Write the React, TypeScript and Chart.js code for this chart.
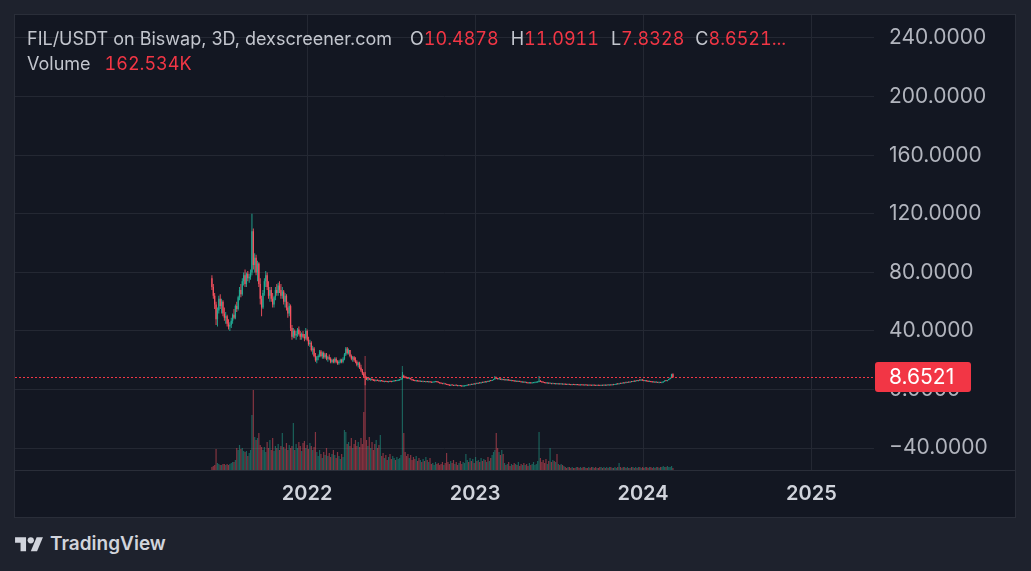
import React, { useEffect, useRef } from "react";
import { Chart, registerables } from "chart.js";
Chart.register(...registerables);

// ---------- data (FIL/USDT, 3D candles, Biswap) ----------
const DAY = 86400000;
const FIRST_CANDLE = Date.UTC(2021, 5, 8);
const CANDLE_STEP = 3 * DAY;
const X_MIN = Date.UTC(2020, 3, 6);
const X_MAX = Date.UTC(2025, 4, 17);
const Y_MIN = -54.9;
const Y_MAX = 255.7;
const VOL_MAX = 36400; // K

const yearTicks = [2022, 2023, 2024, 2025];
const priceTicks = [-40, 0, 40, 80, 120, 160, 200, 240];

const opens = [
  76,70,64,58,48,54,62,57,60,52, 49,50,45,43,44,47,51,49,57,55,
  63,68,65,74,78,72,79,76,77,80, 108,85,90,80,86,72,62,56,66,74,
  78,70,64,68,62,58,63,68,66,71, 68,64,67,60,64,56,52,57,42,36,
  40,37,38,41,38,36,38,36,35,40, 34,31,32,27,28,23,20,22,23,26,
  23,25,22,24,21,22,21,19,20,19, 21,19,18,19,20,19,21,24,28,25,
  27,23,21,22,20,19,17,18,15,13, 11,9,
  8,7,7.5,6.8,7.2,6.5,6.2,6,6.3,6.1,
  5.7,6.0,5.8,5.3,5.6,5.4,5.2,5.5,5.4,5.3,
  5.7,6.0,5.8,6.2,6.4,6.8,7.3,9.5,8.6,8.2,
  8.0,7.5,7.8,7.0,6.4,6.2,5.8,6.0,5.7,5.5,
  5.6,5.3,5.4,5.2,5.3,5.1,5.2,5.0,4.8,5.0,
  5.2,5.4,5.1,4.8,4.4,4.1,3.9,4.0,3.6,3.3,
  3.1,2.7,3.0,2.9,2.6,2.8,2.7,2.5,2.6,2.4,
  2.2,2.3,2.5,2.8,3.1,3.0,3.4,3.3,3.7,3.6,
  4.1,4.0,4.5,4.3,4.8,4.7,5.2,5.0,5.5,5.4,
  6.0,5.9,6.5,7.0,8.2,7.5,7.2,7.4,6.8,7.0,
  6.6,6.8,6.4,6.6,6.3,6.0,6.2,5.8,5.6,5.8,
  5.4,5.6,5.3,5.0,5.2,4.8,5.0,4.6,4.4,4.6,
  4.3,4.5,4.7,4.8,5.0,5.2,6.0,5.4,5.0,4.8,
  4.5,4.3,4.4,4.1,4.2,3.9,4.0,3.8,3.9,3.7,
  3.8,3.6,3.7,3.5,3.6,3.4,3.3,3.5,3.3,3.2,
  3.4,3.2,3.1,3.3,3.1,3.0,3.2,3.0,2.9,3.1,
  2.9,2.8,3.0,2.8,2.7,2.9,2.8,2.6,2.8,2.7,
  2.6,2.8,2.7,2.9,2.8,3.0,2.9,3.1,3.0,3.3,
  3.2,3.5,3.8,3.7,4.1,4.0,4.4,4.3,4.7,4.6,
  5.0,4.9,5.3,5.2,5.6,5.5,5.9,5.8,6.3,6.2,
  6.6,6.2,5.8,6.0,5.7,5.4,5.6,5.2,5.0,5.2,
  4.9,5.0,4.7,4.8,4.6,4.9,5.5,6.0,5.8,6.5,
  7.2,8.0,10.4878,
];

const highs = [
  78,72,66,60,56,64,65,62,61,56, 53,51,48,46,49,52,55,58,60,64,
  70,72,76,80,82,80,81,79,82,120, 110,93,92,88,87,76,64,68,76,81,
  80,74,70,70,66,64,70,72,73,74, 72,70,68,66,65,60,59,58,44,42,
  41,40,42,43,40,39,40,38,42,41, 36,34,33,30,29,25,23,24,27,27,
  26,26,25,25,23,24,22,21,21,22, 22,20,20,21,21,22,25,29,29,28,
  27,24,23,23,22,20,19,19,17,14, 12,12,
  9,8,8,7.5,7.6,7,6.8,6.6,6.7,6.4,
  6.3,6.4,6.0,5.8,5.9,5.7,5.6,5.8,5.7,5.9,
  6.2,6.3,6.4,6.6,7.0,7.5,12,10.2,9.0,8.8,
  8.3,8.0,8.0,7.3,6.8,6.5,6.2,6.3,6.0,5.9,
  5.8,5.6,5.7,5.5,5.6,5.4,5.5,5.3,5.2,5.4,
  5.6,5.6,5.3,5.0,4.6,4.3,4.2,4.2,3.8,3.6,
  3.4,3.2,3.3,3.1,3.0,3.0,2.9,2.8,2.8,2.6,
  2.5,2.6,2.9,3.2,3.4,3.5,3.7,3.8,4.0,4.2,
  4.4,4.6,4.8,4.9,5.2,5.3,5.6,5.6,5.9,6.2,
  6.4,6.6,7.2,9.3,8.8,8.0,7.8,7.6,7.2,7.3,
  7.0,7.1,6.8,6.9,6.6,6.5,6.4,6.1,6.0,6.0,
  5.8,5.9,5.5,5.4,5.4,5.2,5.2,4.9,4.8,4.8,
  4.7,4.9,5.0,5.2,5.4,9.3,6.4,5.7,5.3,5.0,
  4.8,4.6,4.6,4.4,4.4,4.2,4.2,4.1,4.1,4.0,
  4.0,3.9,3.9,3.8,3.8,3.6,3.6,3.7,3.5,3.5,
  3.6,3.4,3.4,3.5,3.3,3.3,3.4,3.2,3.2,3.3,
  3.1,3.1,3.2,3.0,3.0,3.1,3.0,2.9,3.0,2.9,
  2.9,3.0,3.0,3.1,3.1,3.2,3.2,3.3,3.4,3.5,
  3.6,3.9,4.1,4.2,4.4,4.5,4.7,4.8,5.0,5.1,
  5.3,5.4,5.6,5.8,6.0,6.1,6.4,6.5,6.8,6.9,
  7.0,6.5,6.2,6.3,6.0,5.8,5.8,5.5,5.4,5.4,
  5.2,5.2,5.0,5.1,5.0,5.6,6.2,6.4,6.6,7.4,
  8.2,10.8,11.0911,
];

const lows = [
  68,62,55,44,43,52,55,52,50,47, 45,43,41,40,42,45,48,48,53,54,
  61,63,64,71,70,70,74,73,75,78, 82,80,78,74,70,58,50,55,64,70,
  68,62,60,60,56,56,61,64,64,66, 62,62,58,56,54,49,50,40,34,35,
  35,34,36,37,34,34,35,33,34,33, 30,29,26,24,22,19,18,20,22,22,
  21,21,21,20,19,20,18,18,18,18, 18,17,17,18,18,18,20,23,24,24,
  22,20,19,19,18,16,15,14,12,10, 8,3,
  6.5,6,6.5,6,6.2,5.8,5.5,5.6,5.8,5.5,
  5.4,5.5,5.1,5.0,5.2,5.0,4.9,5.2,5.0,5.1,
  5.4,5.6,5.6,5.9,6.1,6.5,6.9,8.2,7.8,7.6,
  7.2,7.1,6.8,6.2,5.9,5.6,5.4,5.5,5.3,5.2,
  5.1,5.0,5.1,4.9,5.0,4.8,4.9,4.6,4.6,4.8,
  5.0,4.9,4.6,4.2,3.9,3.7,3.6,3.5,3.1,2.9,
  2.4,2.5,2.7,2.5,2.4,2.5,2.3,2.2,2.3,2.0,
  1.9,2.1,2.3,2.6,2.8,2.9,3.1,3.2,3.4,3.5,
  3.8,3.9,4.1,4.2,4.5,4.6,4.9,4.9,5.2,5.3,
  5.7,5.8,6.3,6.8,7.2,6.9,6.7,6.6,6.3,6.4,
  6.2,6.2,6.0,6.1,5.8,5.7,5.6,5.4,5.3,5.2,
  5.1,5.2,4.8,4.7,4.6,4.5,4.4,4.2,4.2,4.1,
  4.1,4.3,4.4,4.6,4.7,5.0,5.2,4.9,4.6,4.3,
  4.1,4.0,3.9,3.8,3.7,3.6,3.6,3.5,3.6,3.5,
  3.5,3.4,3.4,3.3,3.2,3.1,3.1,3.2,3.0,3.0,
  3.1,2.9,2.9,3.0,2.8,2.8,2.9,2.7,2.7,2.8,
  2.6,2.6,2.7,2.5,2.5,2.6,2.5,2.4,2.5,2.4,
  2.4,2.5,2.5,2.6,2.6,2.7,2.7,2.8,2.9,3.0,
  3.1,3.3,3.5,3.6,3.8,3.9,4.1,4.2,4.4,4.5,
  4.7,4.8,5.0,5.1,5.3,5.4,5.6,5.7,6.0,6.1,
  6.0,5.6,5.5,5.5,5.2,5.1,5.0,4.8,4.8,4.7,
  4.6,4.5,4.4,4.5,4.4,4.8,5.3,5.6,5.7,6.3,
  7.0,7.8,7.8328,
];

const closes = [
  70,64,58,48,54,62,57,60,52,49, 50,45,43,44,47,51,49,57,55,63,
  68,65,74,78,72,79,76,77,80,108, 85,90,80,86,72,62,56,66,74,78,
  70,64,68,62,58,63,68,66,71,68, 64,67,60,64,56,52,57,42,36,40,
  37,38,41,38,36,38,36,35,40,34, 31,32,27,28,23,20,22,23,26,23,
  25,22,24,21,22,21,19,20,19,21, 19,18,19,20,19,21,24,28,25,27,
  23,21,22,20,19,17,18,15,13,11, 9,8,
  7,7.5,6.8,7.2,6.5,6.2,6,6.3,6.1,5.7,
  6.0,5.8,5.3,5.6,5.4,5.2,5.5,5.4,5.3,5.7,
  6.0,5.8,6.2,6.4,6.8,7.3,9.5,8.6,8.2,8.0,
  7.5,7.8,7.0,6.4,6.2,5.8,6.0,5.7,5.5,5.6,
  5.3,5.4,5.2,5.3,5.1,5.2,5.0,4.8,5.0,5.2,
  5.4,5.1,4.8,4.4,4.1,3.9,4.0,3.6,3.3,3.1,
  2.7,3.0,2.9,2.6,2.8,2.7,2.5,2.6,2.4,2.2,
  2.3,2.5,2.8,3.1,3.0,3.4,3.3,3.7,3.6,4.1,
  4.0,4.5,4.3,4.8,4.7,5.2,5.0,5.5,5.4,6.0,
  5.9,6.5,7.0,8.2,7.5,7.2,7.4,6.8,7.0,6.6,
  6.8,6.4,6.6,6.3,6.0,6.2,5.8,5.6,5.8,5.4,
  5.6,5.3,5.0,5.2,4.8,5.0,4.6,4.4,4.6,4.3,
  4.5,4.7,4.8,5.0,5.2,6.0,5.4,5.0,4.8,4.5,
  4.3,4.4,4.1,4.2,3.9,4.0,3.8,3.9,3.7,3.8,
  3.6,3.7,3.5,3.6,3.4,3.3,3.5,3.3,3.2,3.4,
  3.2,3.1,3.3,3.1,3.0,3.2,3.0,2.9,3.1,2.9,
  2.8,3.0,2.8,2.7,2.9,2.8,2.6,2.8,2.7,2.6,
  2.8,2.7,2.9,2.8,3.0,2.9,3.1,3.0,3.3,3.2,
  3.5,3.8,3.7,4.1,4.0,4.4,4.3,4.7,4.6,5.0,
  4.9,5.3,5.2,5.6,5.5,5.9,5.8,6.3,6.2,6.6,
  6.2,5.8,6.0,5.7,5.4,5.6,5.2,5.0,5.2,4.9,
  5.0,4.7,4.8,4.6,4.9,5.5,6.0,5.8,6.5,7.2,
  8.0,10.5,8.6521,
];

// volume in thousands (K)
const volumesK = [
  240,320,400,1680,560,480,400,400,480,480,400,480,400,480,560,640,640,
  800,1760,1600,2000,1680,1760,1520,1440,1520,1120,1360,1600,
  4400,6400,
  2640,2400,2560,2960,2000,
  1840,1600,1840,1440,2240,1760,2400,1600,2560,1520,1920,
  1760,2080,1600,1920,2960,1840,1680,2160,1600,2000,1760,1920,
  3760,
  1600,2080,1760,2240,1920,1520,2160,2320,1760,2000,1680,2160,1920,1600,1840,
  3040,
  1440,1120,1600,1280,960,1440,1200,1760,1120,1360,1040,1280,1600,1200,960,1440,1120,880,1280,1040,
  3200,3040,2080,
  2240,1920,2560,1760,2080,2400,1920,2240,1840,2560,2080,4640,
  9120,
  2400,1920,2640,1760,2240,1600,2080,2400,1760,2000,2800,
  1120,1360,960,1200,800,1040,1280,880,1120,960,800,1040,880,960,1200,
  8320,
  2960,
  1440,1120,1280,960,1200,800,1040,880,1120,720,960,800,640,880,720,1040,800,640,960,
  480,560,400,640,480,560,400,480,640,400,560,
  1360,
  640,480,720,560,800,480,640,400,560,720,480,640,560,
  1280,
  800,640,960,720,880,560,1040,720,800,640,960,720,880,800,640,1040,720,960,
  1200,1440,1600,
  2960,
  1760,1440,1200,1600,1280,
  560,400,480,640,320,480,400,560,480,400,640,320,480,400,560,400,480,320,560,400,480,640,400,480,
  720,3040,
  960,640,800,560,880,480,720,
  1760,
  640,800,720,640,
  1280,
  480,400,480,400,320,
  240,160,240,240,160,240,160,160,240,240,160,240,160,240,240,160,160,240,160,240,
  240,160,240,160,160,240,240,160,240,160,240,160,240,240,160,160,240,160,240,560,
  240,160,240,240,160,240,160,160,240,240,160,240,160,240,240,160,240,160,240,240,
  160,240,240,160,240,160,240,240,160,240,240,320,240,240,320,240,240,320,162.534,
];

// ---------- styles ----------
const UP = "#22ab94";
const DOWN = "#f7525f";
const VOL_UP = "rgba(34,171,148,0.5)";
const VOL_DOWN = "rgba(247,82,95,0.5)";
const GRID = "#242833";
const PANEL_BG = "#131722";
const OUTER_BG = "#1e222d";
const BORDER = "#2a2e39";
const TEXT = "#c3c6ce";
const RED_TEXT = "#f23645";
const FONT = "Inter, 'Noto Sans', sans-serif";

function fmtPrice(v: number) {
  const s = Math.abs(v).toFixed(4);
  return v < 0 ? "\u2212" + s : s;
}

export default function App() {
  const ref = useRef<HTMLCanvasElement>(null);

  useEffect(() => {
    const canvas = ref.current;
    if (!canvas) return;
    const xs = closes.map((_, i) => FIRST_CANDLE + i * CANDLE_STEP);
    const up = closes.map((c, i) => c >= opens[i]);
    const last = closes.length - 1;

    const overlay = {
      id: "overlay",
      afterDatasetsDraw(chart: any) {
        const { ctx, chartArea, scales } = chart;
        const y = Math.round(scales.y.getPixelForValue(closes[last])) + 0.5;
        ctx.save();
        ctx.strokeStyle = RED_TEXT;
        ctx.lineWidth = 1;
        ctx.setLineDash([2, 2]);
        ctx.beginPath();
        ctx.moveTo(chartArea.left, y);
        ctx.lineTo(chartArea.right, y);
        ctx.stroke();
        ctx.restore();
      },
      afterDraw(chart: any) {
        const { ctx, chartArea, scales, width } = chart;
        ctx.save();
        ctx.fillStyle = BORDER;
        ctx.fillRect(0, chartArea.bottom, width, 1);
        const y = scales.y.getPixelForValue(closes[last]);
        const bx = chartArea.right + 1;
        const bw = 96;
        const bh = 30;
        const by = y - bh / 2;
        ctx.fillStyle = RED_TEXT;
        ctx.beginPath();
        (ctx as any).roundRect(bx, by, bw, bh, 3);
        ctx.fill();
        ctx.fillStyle = "#ffffff";
        ctx.font = `21px ${FONT}`;
        ctx.textBaseline = "middle";
        ctx.textAlign = "left";
        ctx.fillText(closes[last].toFixed(4), chartArea.right + 15, y + 1);
        ctx.restore();
      },
    };

    const chart = new Chart(canvas, {
      type: "bar",
      data: {
        datasets: [
          {
            label: "Volume",
            data: volumesK.map((v, i) => ({ x: xs[i], y: v })) as any,
            yAxisID: "yv",
            backgroundColor: up.map((u) => (u ? VOL_UP : VOL_DOWN)),
            barThickness: 1.2,
            inflateAmount: 0,
            grouped: false,
            order: 3,
          } as any,
          {
            label: "Wick",
            data: closes.map((_, i) => ({ x: xs[i], y: [lows[i], highs[i]] })) as any,
            yAxisID: "y",
            backgroundColor: up.map((u) => (u ? UP : DOWN)),
            barThickness: 0.9,
            inflateAmount: 0,
            grouped: false,
            order: 2,
          } as any,
          {
            label: "Body",
            data: closes.map((c, i) => ({ x: xs[i], y: [opens[i], c] })) as any,
            yAxisID: "y",
            backgroundColor: up.map((u) => (u ? UP : DOWN)),
            barThickness: 1.3,
            minBarLength: 1,
            inflateAmount: 0,
            grouped: false,
            order: 1,
          } as any,
        ],
      },
      options: {
        animation: false,
        responsive: false,
        maintainAspectRatio: false,
        layout: { padding: 0 },
        plugins: { legend: { display: false }, tooltip: { enabled: false } },
        scales: {
          x: {
            type: "linear",
            position: "bottom",
            min: X_MIN,
            max: X_MAX,
            offset: false,
            grid: { color: GRID, drawTicks: false, offset: false },
            border: { display: false },
            afterBuildTicks: (s: any) => {
              s.ticks = yearTicks.map((yr) => ({ value: Date.UTC(yr, 0, 1) }));
            },
            afterFit: (s: any) => {
              s.height = 47;
              s.paddingLeft = 0;
              s.paddingRight = 0;
            },
            ticks: {
              autoSkip: false,
              maxRotation: 0,
              padding: 12,
              color: "#d1d4dc",
              font: { family: FONT, size: 20, weight: "600" },
              callback: (v: any) => String(new Date(Number(v)).getUTCFullYear()),
            },
          } as any,
          y: {
            type: "linear",
            position: "right",
            min: Y_MIN,
            max: Y_MAX,
            grid: { color: GRID, drawTicks: false },
            border: { display: false },
            afterBuildTicks: (s: any) => {
              s.ticks = priceTicks.map((v) => ({ value: v }));
            },
            afterFit: (s: any) => {
              s.width = 141;
              s.paddingTop = 0;
              s.paddingBottom = 0;
            },
            ticks: {
              crossAlign: "near",
              padding: 15,
              color: "#b2b5be",
              font: { family: FONT, size: 21 },
              callback: (v: any) => fmtPrice(Number(v)),
            },
          } as any,
          yv: {
            type: "linear",
            display: false,
            min: 0,
            max: VOL_MAX,
          },
        },
      },
      plugins: [overlay],
    });
    return () => chart.destroy();
  }, []);

  const lastIdx = closes.length - 1;
  const num: React.CSSProperties = { color: RED_TEXT, fontVariantNumeric: "tabular-nums" };
  return (
    <div
      style={{
        position: "fixed",
        left: 0,
        top: 0,
        width: 1031,
        height: 571,
        background: OUTER_BG,
        fontFamily: FONT,
        overflow: "hidden",
      }}
    >
      <div
        style={{
          position: "absolute",
          left: 14,
          top: 14,
          width: 1000,
          height: 502,
          border: `1px solid ${BORDER}`,
          background: PANEL_BG,
        }}
      >
        <canvas ref={ref} width={1000} height={502} style={{ display: "block", width: 1000, height: 502 }} />
        <div
          style={{
            position: "absolute",
            left: 12,
            top: 12,
            fontSize: 18,
            lineHeight: "24px",
            color: TEXT,
            whiteSpace: "nowrap",
          }}
        >
          <span>FIL/USDT on Biswap, 3D, dexscreener.com</span>
          <span style={{ marginLeft: 18 }}>O</span>
          <span style={num}>{opens[lastIdx].toFixed(4)}</span>
          <span style={{ marginLeft: 12 }}>H</span>
          <span style={num}>{highs[lastIdx].toFixed(4)}</span>
          <span style={{ marginLeft: 12 }}>L</span>
          <span style={num}>{lows[lastIdx].toFixed(4)}</span>
          <span style={{ marginLeft: 11 }}>C</span>
          <span style={num}>{closes[lastIdx].toFixed(4)}...</span>
        </div>
        <div
          style={{
            position: "absolute",
            left: 12,
            top: 37,
            fontSize: 18,
            lineHeight: "24px",
            color: TEXT,
            whiteSpace: "nowrap",
          }}
        >
          <span>Volume</span>
          <span style={{ ...num, marginLeft: 14 }}>
            {volumesK[lastIdx].toFixed(3)}K
          </span>
        </div>
      </div>
      <svg
        width={28.4}
        height={22}
        viewBox="0 0 36 28"
        style={{ position: "absolute", left: 15, top: 534 }}
      >
        <path d="M14 22H7V11H0V4h14v18z" fill="#d1d4dc" />
        <path d="M28 22h-8l7.5-18h8L28 22z" fill="#d1d4dc" />
        <circle cx="20" cy="8" r="4" fill="#d1d4dc" />
      </svg>
      <div
        style={{
          position: "absolute",
          left: 50,
          top: 532,
          fontSize: 19,
          lineHeight: "24px",
          fontWeight: 600,
          color: "#d1d4dc",
          whiteSpace: "nowrap",
        }}
      >
        TradingView
      </div>
    </div>
  );
}
